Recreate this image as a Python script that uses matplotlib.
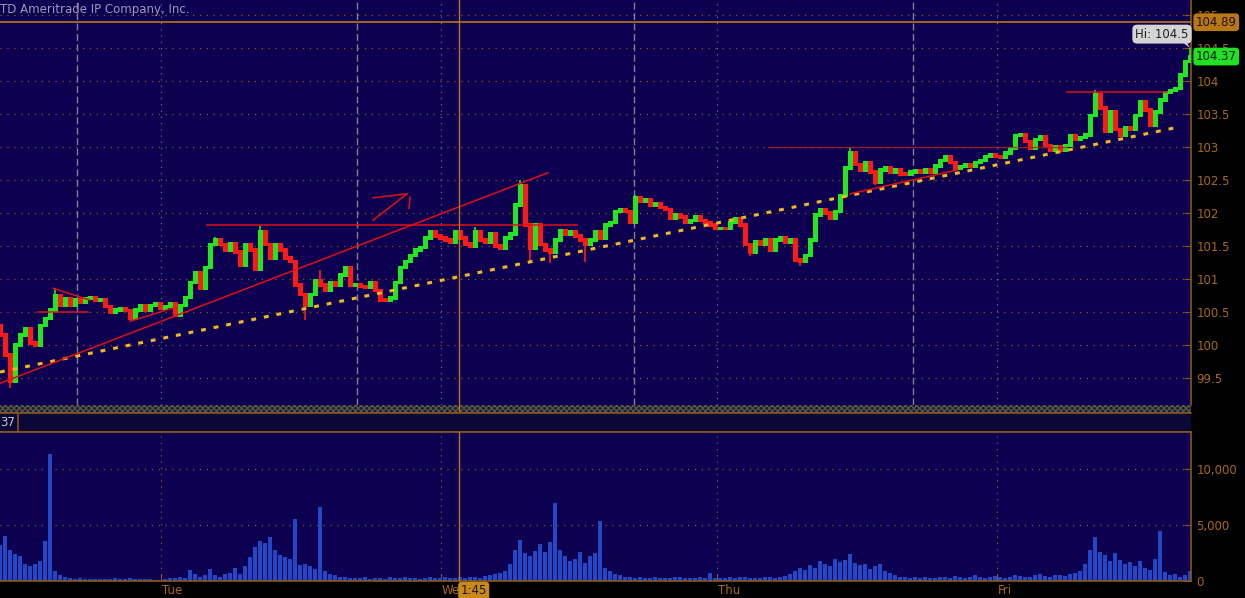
import numpy as np
import matplotlib
matplotlib.use("Agg")
import matplotlib.pyplot as plt
from matplotlib.patches import Rectangle, Polygon

# price closes, one bar every ~5 px of the original chart
closes = [
    100.15, 99.85, 99.45, 100.0, 100.15, 100.25, 100.03, 100.0, 100.3, 100.4,
    100.53, 100.75, 100.6, 100.7, 100.6, 100.68, 100.65, 100.7, 100.72, 100.67,
    100.68, 100.58, 100.5, 100.53, 100.55, 100.52, 100.41, 100.53, 100.6, 100.53,
    100.6, 100.62, 100.56, 100.58, 100.62, 100.45, 100.6, 100.72, 100.95, 101.1,
    100.86, 101.17, 101.52, 101.6, 101.52, 101.44, 101.53, 101.41, 101.21, 101.52,
    101.44, 101.14, 101.71, 101.52, 101.32, 101.52, 101.44, 101.32, 101.26, 100.91,
    100.76, 100.6, 100.76, 100.98, 100.91, 100.83, 100.95, 100.91, 101.06, 101.17,
    100.91, 100.92, 100.89, 100.88, 100.95, 100.83, 100.68, 100.67, 100.71, 100.95,
    101.17, 101.26, 101.36, 101.44, 101.48, 101.62, 101.71, 101.65, 101.62, 101.59,
    101.56, 101.71, 101.62, 101.53, 101.5, 101.71, 101.59, 101.55, 101.68, 101.5,
    101.47, 101.62, 101.68, 102.12, 102.42, 101.82, 101.47, 101.82, 101.52, 101.44,
    101.41, 101.59, 101.74, 101.67, 101.71, 101.65, 101.59, 101.52, 101.59, 101.71,
    101.62, 101.82, 101.86, 102.02, 102.05, 102.02, 101.86, 102.23, 102.17, 102.2,
    102.12, 102.14, 102.08, 102.05, 101.92, 101.98, 101.94, 101.86, 101.89, 101.95,
    101.89, 101.86, 101.82, 101.77, 101.77, 101.76, 101.86, 101.92, 101.82, 101.52,
    101.41, 101.56, 101.52, 101.59, 101.44, 101.59, 101.62, 101.55, 101.59, 101.29,
    101.26, 101.36, 101.59, 101.97, 102.05, 102.0, 101.92, 102.02, 102.27, 102.68,
    102.92, 102.73, 102.65, 102.77, 102.62, 102.47, 102.65, 102.68, 102.62, 102.65,
    102.59, 102.58, 102.62, 102.64, 102.62, 102.65, 102.62, 102.71, 102.8, 102.85,
    102.76, 102.68, 102.7, 102.73, 102.71, 102.76, 102.8, 102.86, 102.89, 102.86,
    102.85, 102.91, 102.98, 103.17, 103.18, 103.08, 102.98, 103.11, 103.15, 103.02,
    102.95, 103.0, 102.95, 103.02, 103.17, 103.11, 103.14, 103.18, 103.48, 103.79,
    103.59, 103.23, 103.53, 103.26, 103.18, 103.29, 103.26, 103.48, 103.68, 103.56,
    103.33, 103.53, 103.71, 103.83, 103.86, 103.89, 104.09, 104.3, 104.37,
]
first_open = 100.3

# wick extremes (bar index -> price)
wick_highs = {11: 100.86, 43: 101.64, 52: 101.8, 64: 101.14, 95: 101.79,
              104: 102.5, 127: 102.27, 170: 103.0, 219: 103.86, 238: 104.5}
wick_lows = {2: 99.35, 61: 100.38, 106: 101.26, 110: 101.24, 117: 101.25,
             150: 101.35, 160: 101.2, 175: 102.42}

volumes = [
    3200, 4000, 2800, 2400, 2200, 1500, 1300, 1500, 1800, 3600, 11300,
    900, 500, 350, 250, 200, 250, 200, 150, 200, 150, 200, 150, 250, 150, 200,
    250, 200, 150, 200, 150, 100, 100, 200, 250, 300, 350, 300,
    1000, 600, 400, 500, 1100, 500, 400, 600, 700, 1200, 600, 1300, 2100, 3000,
    3600, 3400, 3900, 2800, 2300, 2100, 2000, 5500, 1400, 1500, 1300, 1100, 6600,
    900, 600, 500, 400, 350, 300,
    300, 250, 350, 200, 300, 250, 200, 350, 300, 250, 400, 300, 250, 200, 300,
    350, 250, 300, 400, 300, 250, 350, 300, 400, 350, 300, 450, 500, 600,
    700, 900, 1500, 2800, 3700, 2500, 2200, 2700, 3300, 2600, 3500, 7000, 2800,
    2200, 1800, 2000, 2600, 1600, 2200, 2500, 5400, 1200, 900, 600, 500,
    400, 350, 300, 400, 300, 250, 350, 300, 250, 300, 400, 350, 300, 250, 300,
    350, 300, 700, 300, 250, 300, 350, 300, 400, 350, 300, 250, 300, 350, 400,
    300, 350, 450,
    600, 900, 1200, 1000, 1400, 1200, 1800, 1500, 1300, 2000, 1700, 1900, 2400,
    1600, 1400, 1500, 1100, 1300, 1500, 900, 700,
    500, 400, 350, 300, 400, 300, 350, 250, 300, 400, 350, 300, 450, 350, 300,
    400, 500, 350, 300, 400, 450, 350, 300, 400, 500, 450, 400, 350, 500, 600,
    450, 400, 500, 550, 450, 600, 700,
    900, 1500, 2800, 3900, 2600, 2300, 1800, 2500, 1900, 1500, 1700, 1300, 1800,
    1200, 1000, 2000, 4500, 800, 500, 600, 400, 500, 900,
]

price_ticks = [99.5, 100, 100.5, 101, 101.5, 102, 102.5, 103, 103.5, 104, 104.5, 105]
volume_ticks = [0, 5000, 10000]
volume_tick_labels = ["0", "5,000", "10,000"]
day_labels = ["Tue", "Wed", "Thu", "Fri"]
day_start_bars = [32.2, 88.2, 143.4, 199.4]
session_bars = [15.4, 71.4, 126.8, 182.6]
last_price = 104.37
session_high = 104.5
cursor_price = 104.89
cursor_bar = 91.8
cursor_time = "1:45"

# hand-drawn studies: (x pair in bars, y pair in price)
yellow_trend = ([0, 235.6], [99.59, 103.3])
red_lines = [
    ([0, 109.6], [99.42, 102.61]),
    ([41.4, 115.4], [101.82, 101.82]),
    ([7.6, 17.6], [100.5, 100.5]),
    ([10.6, 18.0], [100.86, 100.68]),
    ([26.0, 34.6], [100.36, 100.56]),
    ([74.6, 81.4], [101.89, 102.29]),
    ([74.6, 81.4], [102.23, 102.29]),
    ([82.0, 81.8], [102.24, 102.07]),
    ([170.0, 191.4], [102.29, 102.65]),
    ([213.4, 233.4], [103.83, 103.83]),
]
faint_line = ([153.6, 213.4], [103.0, 103.0])

BG = "#0d0050"
BROWN = "#8a5818"
LABEL = "#a8681c"
GREEN = "#22e622"
RED = "#ff1a1a"

W, H = 1245, 598


def rect(x0, y0, x1, y1):
    return [x0 / W, 1 - y1 / H, (x1 - x0) / W, (y1 - y0) / H]


plt.rcParams["font.family"] = ["DejaVu Sans"]
plt.rcParams["hatch.linewidth"] = 1.0

fig = plt.figure(figsize=(12.45, 5.98), dpi=100, facecolor="black")
ax = fig.add_axes(rect(0, 0, 1191, 405))
sep = fig.add_axes(rect(0, 405, 1191, 413))
hdr = fig.add_axes(rect(0, 413, 1191, 432))
vax = fig.add_axes(rect(0, 432, 1191, 581))

n = len(closes)
idx = np.arange(n)
xlim = (0, 238.2)

# ---- price panel
ax.set_facecolor(BG)
ax.set_xlim(*xlim)
ax.set_ylim(99.091, 105.227)
for p in price_ticks:
    ax.axhline(p, color="#8a5c14", lw=0.9, ls=(0, (1, 4.5)), zorder=1)
for b in day_start_bars:
    ax.axvline(b, color="#6c6c9c", lw=0.9, ls=(0, (1, 4)), zorder=1)
for b in session_bars:
    ax.axvline(b, color="#808090", lw=1.0, ls=(0, (5, 2.5)), zorder=1)

opens = np.array([first_open] + closes[:-1])
cl = np.array(closes)
lo = np.minimum(opens, cl) - 0.025
hi = np.maximum(opens, cl) + 0.025
cols = [GREEN if c >= o else RED for o, c in zip(opens, cl)]
ax.bar(idx, hi - lo, bottom=lo, width=1.0, color=cols, linewidth=0, zorder=3)
for i, p in wick_highs.items():
    ax.vlines(i, hi[i], p, color=cols[i], lw=1.2, zorder=3)
for i, p in wick_lows.items():
    ax.vlines(i, p, lo[i], color=cols[i], lw=1.2, zorder=3)

ax.plot(*yellow_trend, color="#f0b820", lw=2.2, ls=(0, (1.6, 2.6)), zorder=4)
for xs, ys in red_lines:
    ax.plot(xs, ys, color="#e01212", lw=1.1, zorder=4)
ax.plot(*faint_line, color="#b02020", lw=1.0, alpha=0.8, zorder=4)

ax.axhline(cursor_price, color="#b87814", lw=1.2, zorder=5)
ax.axvline(cursor_bar, color="#b87814", lw=1.0, zorder=5)

ax.yaxis.tick_right()
ax.set_yticks(price_ticks)
ax.set_yticklabels([f"{p:g}" for p in price_ticks])
ax.tick_params(axis="y", direction="in", length=5, color=BROWN,
               labelcolor=LABEL, labelsize=8.5, pad=4)
ax.set_xticks([])
for s in ["left", "top", "bottom"]:
    ax.spines[s].set_visible(False)
ax.spines["right"].set_color(BROWN)
ax.spines["right"].set_linewidth(1.2)

ax.text(0.0, 1 - 10 / 405, "TD Ameritrade IP Company, Inc.", transform=ax.transAxes,
        color="#9a9ab8", fontsize=8.5, va="center", ha="left")

ytr = ax.get_yaxis_transform()
ax.text(1.004, cursor_price, f"{cursor_price:.2f}", transform=ytr, va="center",
        ha="left", fontsize=8.5, color="#1a1030", clip_on=False, zorder=10,
        bbox=dict(boxstyle="round,pad=0.2,rounding_size=0.3", fc="#b87814", ec="none"))
ax.text(1.004, last_price, f"{last_price:.2f}", transform=ytr, va="center",
        ha="left", fontsize=8.5, color="#0a1a0a", clip_on=False, zorder=10,
        bbox=dict(boxstyle="round,pad=0.2,rounding_size=0.3", fc="#22e022", ec="none"))
ax.text(232.4, 104.71, f"Hi: {session_high}", va="center", ha="center",
        fontsize=8.5, color="#202020", zorder=10,
        bbox=dict(boxstyle="round,pad=0.25,rounding_size=0.4", fc="#d4d4d4", ec="none"))
ax.add_patch(Polygon([(235.6, 104.64), (237.0, 104.64), (238.0, session_high)],
                     closed=True, fc="#d4d4d4", ec="none", zorder=10))

# ---- separator strip
sep.set_facecolor("#1c1c1c")
sep.set_xticks([]); sep.set_yticks([])
sep.add_patch(Rectangle((0, 0), 1, 1, transform=sep.transAxes, fc="#1c1c1c",
                        ec="#555555", hatch="xxxxxx", lw=0))
for s in sep.spines.values():
    s.set_visible(False)
sep.axvline(0.385, color="#b87814", lw=1.0)

# ---- study header strip
hdr.set_facecolor("#0a0836")
hdr.set_xlim(*xlim)
hdr.set_xticks([]); hdr.set_yticks([])
for s in ["left", "right"]:
    hdr.spines[s].set_visible(False)
for s in ["top", "bottom"]:
    hdr.spines[s].set_color(BROWN)
    hdr.spines[s].set_linewidth(1.2)
hdr.text(0.0, 0.5, "37", transform=hdr.transAxes, color="#c8c8d8",
         fontsize=8.5, va="center", ha="left")
hdr.axvline(3.6, color=BROWN, lw=1.2)

# ---- volume panel
vax.set_facecolor(BG)
vax.set_xlim(*xlim)
vax.set_ylim(0, 13300)
for v in volume_ticks[1:]:
    vax.axhline(v, color="#8a5c14", lw=0.9, ls=(0, (1, 4.5)), zorder=1)
for b in day_start_bars:
    vax.axvline(b, color="#8a5c14", lw=0.9, ls=(0, (1, 4)), zorder=1)
vax.bar(np.arange(len(volumes)), volumes, width=0.9, color="#2448c4",
        linewidth=0, zorder=2)
vax.axvline(cursor_bar, color="#b87814", lw=1.0, zorder=5)

vax.yaxis.tick_right()
vax.set_yticks(volume_ticks)
vax.set_yticklabels(volume_tick_labels)
vax.tick_params(axis="y", direction="in", length=5, color=BROWN,
                labelcolor=LABEL, labelsize=8.5, pad=4)
vax.set_xticks(day_start_bars)
vax.set_xticklabels([])
vax.tick_params(axis="x", direction="in", length=5, color=BROWN)
vax.spines["left"].set_visible(False)
for s in ["right", "bottom", "top"]:
    vax.spines[s].set_color(BROWN)
    vax.spines[s].set_linewidth(1.2)

xtr = vax.get_xaxis_transform()
for b, lab in zip(day_start_bars, day_labels):
    vax.text(b + 0.2, -0.065, lab, transform=xtr, color=LABEL, fontsize=8.5,
             va="center", ha="left", clip_on=False)
vax.text(cursor_bar + 0.3, -0.065, cursor_time, transform=xtr, color="#1a1040",
         fontsize=8.5, va="center", ha="left", clip_on=False, zorder=10,
         bbox=dict(boxstyle="round,pad=0.2,rounding_size=0.3", fc="#c88a14", ec="none"))

fig.savefig("out.png", dpi=100, facecolor="black")
